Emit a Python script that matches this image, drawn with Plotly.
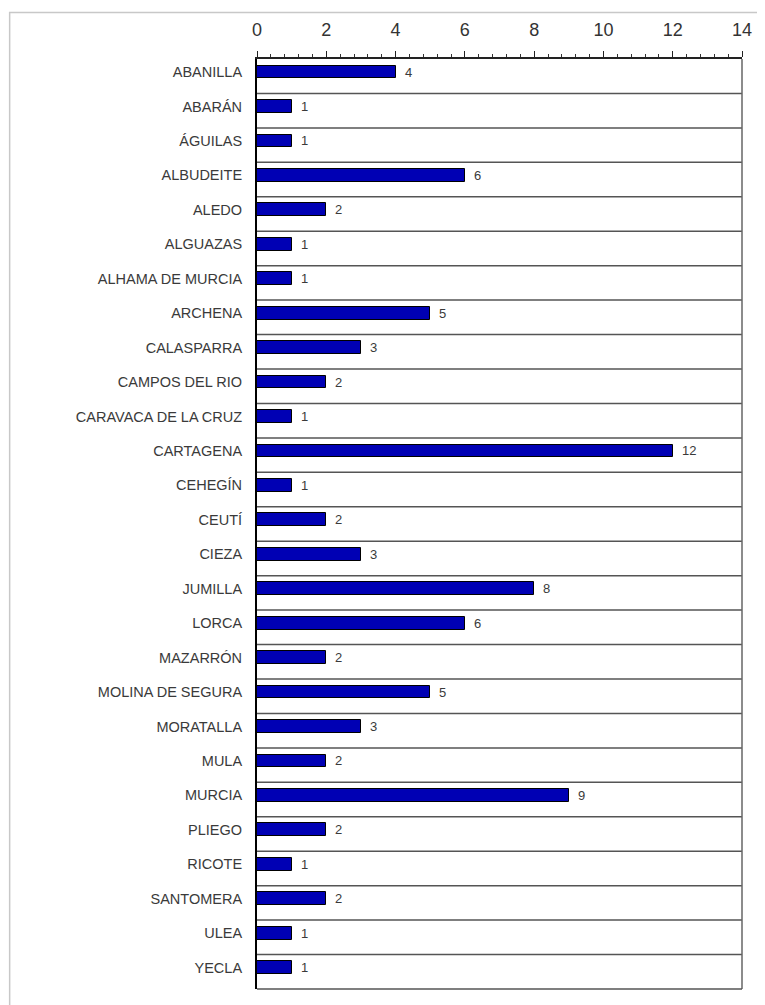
import plotly.graph_objects as go

categories = ["ABANILLA", "ABARÁN", "ÁGUILAS", "ALBUDEITE", "ALEDO", "ALGUAZAS",
              "ALHAMA DE MURCIA", "ARCHENA", "CALASPARRA", "CAMPOS DEL RIO",
              "CARAVACA DE LA CRUZ", "CARTAGENA", "CEHEGÍN", "CEUTÍ", "CIEZA",
              "JUMILLA", "LORCA", "MAZARRÓN", "MOLINA DE SEGURA", "MORATALLA",
              "MULA", "MURCIA", "PLIEGO", "RICOTE", "SANTOMERA", "ULEA", "YECLA"]
values = [4, 1, 1, 6, 2, 1, 1, 5, 3, 2, 1, 12, 1, 2, 3, 8, 6, 2, 5, 3, 2, 9, 2, 1, 2, 1, 1]
x_ticks = [0, 2, 4, 6, 8, 10, 12, 14]

n = len(categories)
pos = list(range(n))
FONT = "Liberation Sans, Arial, sans-serif"

fig = go.Figure()
fig.add_trace(go.Bar(
    x=values, y=pos, orientation="h", width=0.37,
    marker=dict(color="#0000B4", line=dict(color="#000000", width=1)),
    hoverinfo="skip",
))

annotations = []
for p, v in zip(pos, values):
    annotations.append(dict(x=v, y=p, xref="x", yref="y", text=str(v), showarrow=False,
                            xanchor="left", xshift=7, font=dict(family=FONT, size=13, color="#3a3a3a")))

shapes = []
# row separators
for p in pos[:-1]:
    shapes.append(dict(type="line", xref="paper", yref="y", x0=0, x1=1, y0=p + 0.62, y1=p + 0.62,
                       line=dict(color="#555555", width=1.5)))
# plot frame (right, bottom)
shapes.append(dict(type="line", xref="paper", yref="paper", x0=1, x1=1, y0=0, y1=1,
                   line=dict(color="#666666", width=1.5)))
shapes.append(dict(type="line", xref="paper", yref="paper", x0=0, x1=1, y0=0, y1=0,
                   line=dict(color="#555555", width=1.5)))
# outer page frame
shapes.append(dict(type="rect", xref="paper", yref="paper", x0=-0.51, x1=1.2, y0=-0.2, y1=1.05,
                   line=dict(color="#c8c8c8", width=1.5), layer="below"))

fig.update_layout(
    width=757, height=997,
    margin=dict(l=249, r=23, t=49, b=16),
    paper_bgcolor="white", plot_bgcolor="white",
    showlegend=False,
    bargap=0,
    xaxis=dict(
        side="top", range=[0, 14], tickvals=x_ticks, ticktext=[str(t) for t in x_ticks],
        showgrid=False, zeroline=False,
        showline=True, linecolor="#222222", linewidth=1.5,
        ticks="outside", ticklen=6, tickwidth=1.2, tickcolor="#222222",
        minor=dict(dtick=0.4, ticks="outside", ticklen=3, tickcolor="#333333", tickwidth=1),
        tickfont=dict(family=FONT, size=18, color="#333333"),
        ticklabelstandoff=8,
        fixedrange=True,
    ),
    yaxis=dict(
        range=[n - 1 + 0.62, -0.38], tickvals=pos, ticktext=categories,
        showgrid=False, zeroline=False,
        showline=True, linecolor="#000000", linewidth=2,
        ticks="", ticklabelstandoff=10,
        tickfont=dict(family=FONT, size=14.5, color="#3a3a3a"),
        fixedrange=True,
    ),
    annotations=annotations,
    shapes=shapes,
)

fig.write_html("out.html")
